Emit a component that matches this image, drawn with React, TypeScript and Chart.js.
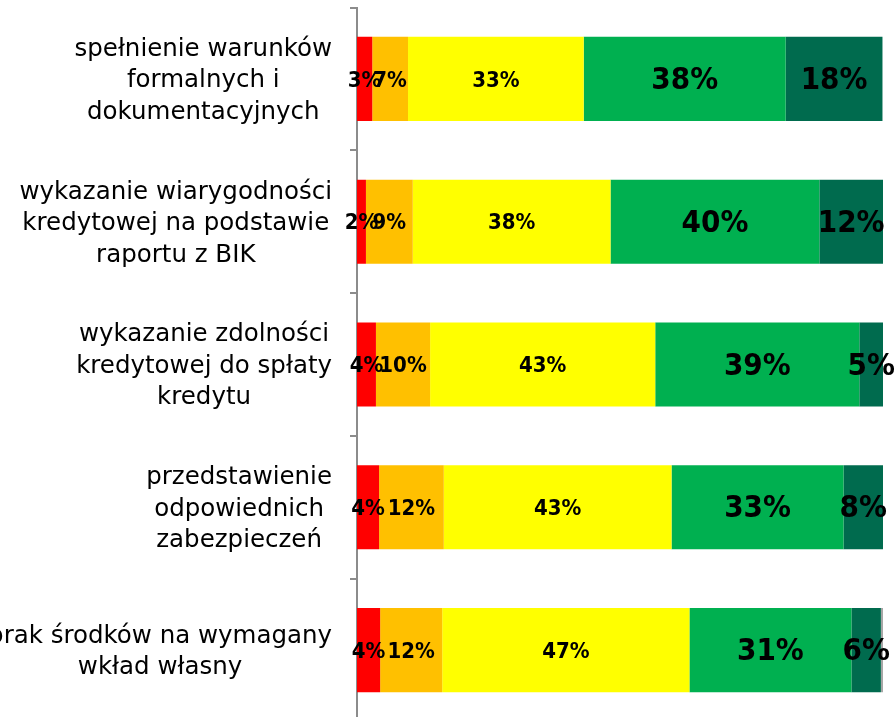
import React, { useEffect, useRef } from "react";
import { Chart, registerables } from "chart.js";

Chart.register(...registerables);

const categories: string[][] = [
  ["spełnienie warunków", "formalnych i", "dokumentacyjnych"],
  ["wykazanie wiarygodności", "kredytowej na podstawie", "raportu z BIK"],
  ["wykazanie zdolności", "kredytowej do spłaty", "kredytu"],
  ["przedstawienie", "odpowiednich", "zabezpieczeń"],
  ["brak środków na wymagany", "wkład własny"],
];

const seriesNames = ["Seria 1", "Seria 2", "Seria 3", "Seria 4", "Seria 5", "Seria 6"];
const redValues = [2.9, 1.7, 3.6, 4.2, 4.4];
const orangeValues = [6.8, 8.9, 10.3, 12.3, 11.8];
const yellowValues = [33.4, 37.6, 42.8, 43.3, 47.0];
const greenValues = [38.4, 39.7, 38.8, 32.7, 30.8];
const darkGreenValues = [18.4, 12.1, 4.5, 7.5, 5.6];
const grayValues = [0, 0, 0, 0, 0.4];

const colors = ["#FF0000", "#FFC000", "#FFFF00", "#00B050", "#006B4E", "#A6A6A6"];
const LABEL_FONT = '"DejaVu Sans Condensed", "DejaVu Sans", sans-serif';
const CAT_FONT = '"DejaVu Sans", sans-serif';

const categoryLabelsPlugin = {
  id: "categoryLabels",
  afterDraw(chart: any) {
    const ctx = chart.ctx;
    const yScale = chart.scales.y;
    ctx.save();
    ctx.font = `24.5px ${CAT_FONT}`;
    ctx.fillStyle = "#000";
    ctx.textBaseline = "middle";
    ctx.textAlign = "center";
    const rightEdge = 332;
    const lineH = 31.5;
    categories.forEach((lines, i) => {
      const yc = yScale.getPixelForValue(i) + 2;
      const w = Math.max(...lines.map((l) => ctx.measureText(l).width));
      const cx = rightEdge - w / 2;
      const y0 = yc - ((lines.length - 1) * lineH) / 2;
      lines.forEach((l, j) => ctx.fillText(l, cx, y0 + j * lineH));
    });
    ctx.restore();
  },
};

const valueLabelsPlugin = {
  id: "valueLabels",
  afterDatasetsDraw(chart: any) {
    const ctx = chart.ctx;
    ctx.save();
    ctx.fillStyle = "#000";
    ctx.textAlign = "center";
    ctx.textBaseline = "middle";
    chart.data.datasets.forEach((ds: any, di: number) => {
      if (di > 4) return;
      const meta = chart.getDatasetMeta(di);
      ctx.font = `bold ${di >= 3 ? 31 : 22}px ${LABEL_FONT}`;
      meta.data.forEach((bar: any, i: number) => {
        const v = ds.data[i];
        if (!v) return;
        const cx = (bar.x + bar.base) / 2;
        ctx.fillText(`${Math.round(v)}%`, cx, bar.y + 2);
      });
    });
    ctx.restore();
  },
};

export default function App() {
  const ref = useRef<HTMLCanvasElement>(null);
  useEffect(() => {
    document.body.style.margin = "0";
    document.body.style.overflow = "hidden";
    document.documentElement.style.overflow = "hidden";
    const allValues = [redValues, orangeValues, yellowValues, greenValues, darkGreenValues, grayValues];
    const chart = new Chart(ref.current!, {
      type: "bar",
      data: {
        labels: categories.map((c) => c.join(" ")),
        datasets: allValues.map((vals, i) => ({
          label: seriesNames[i],
          data: vals,
          backgroundColor: colors[i],
          borderWidth: 0,
          categoryPercentage: 1,
          barPercentage: 0.59,
        })),
      },
      options: {
        indexAxis: "y",
        animation: false,
        responsive: false,
        maintainAspectRatio: false,
        layout: { padding: { left: 0, right: 11, top: 7.6, bottom: 8.6 } },
        plugins: { legend: { display: false }, tooltip: { enabled: false } },
        scales: {
          x: { stacked: true, min: 0, max: 100, display: false },
          y: {
            stacked: true,
            ticks: { display: false },
            grid: {
              offset: true,
              drawOnChartArea: false,
              drawTicks: true,
              tickLength: 7,
              color: "#8C8C8C",
              lineWidth: 2,
            },
            border: { display: true, color: "#8C8C8C", width: 2 },
            afterFit: (scale: any) => {
              scale.width = 357;
            },
          },
        },
      },
      plugins: [valueLabelsPlugin, categoryLabelsPlugin],
    });
    return () => chart.destroy();
  }, []);
  return <canvas ref={ref} width={894} height={730} style={{ display: "block" }} />;
}
